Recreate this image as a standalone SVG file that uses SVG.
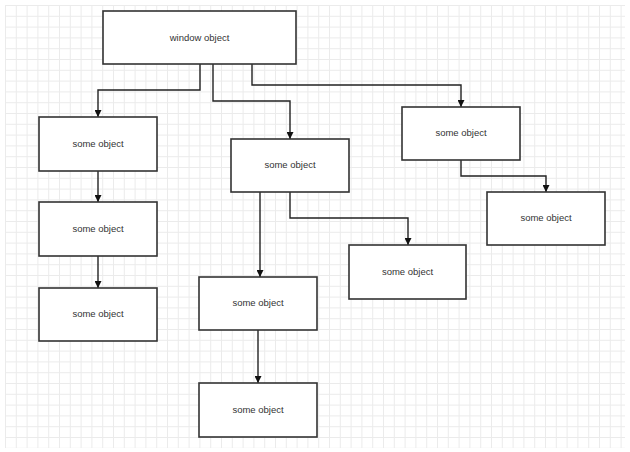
<svg xmlns="http://www.w3.org/2000/svg" width="630" height="452" viewBox="0 0 630 452">
<defs>
<pattern id="grid" x="5" y="5" width="10.8" height="10.8" patternUnits="userSpaceOnUse">
<path d="M0 0.5H10.8M0.5 0V10.8" fill="none" stroke="#ebebeb" stroke-width="1"/>
</pattern>
<marker id="arr" viewBox="0 0 10 10" refX="10" refY="5" markerWidth="8" markerHeight="7" markerUnits="userSpaceOnUse" orient="auto">
<path d="M0 0L10 5L0 10z" fill="#111"/>
</marker>
<style>
.box{fill:#fff;stroke:#333;stroke-width:1.6}
.lbl{font-family:"Liberation Sans",Arial,sans-serif;font-size:9.5px;fill:#333;text-anchor:middle;dominant-baseline:central}
.con{fill:none;stroke:#222;stroke-width:1.4;marker-end:url(#arr)}
</style>
</defs>
<rect width="630" height="452" fill="#fff"/>
<rect x="5" y="5" width="620" height="443" fill="url(#grid)"/>
<g id="connectors">
<path class="con" d="M200 64V90H98V117"/>
<path class="con" d="M98 171V202"/>
<path class="con" d="M98 256V288"/>
<path class="con" d="M213 64V101H290V139"/>
<path class="con" d="M252 64V85H461V107"/>
<path class="con" d="M461 160V176H546V192"/>
<path class="con" d="M290 192V218H408V245"/>
<path class="con" d="M260 192V277"/>
<path class="con" d="M258 330V383"/>
</g>
<g id="window"><rect class="box" x="103" y="11" width="193" height="53"/><text class="lbl" x="199.5" y="37">window object</text></g>
<g id="left1"><rect class="box" x="39" y="117" width="118" height="54"/><text class="lbl" x="98" y="143">some object</text></g>
<g id="left2"><rect class="box" x="39" y="202" width="118" height="54"/><text class="lbl" x="98" y="228">some object</text></g>
<g id="left3"><rect class="box" x="39" y="288" width="118" height="53"/><text class="lbl" x="98" y="313">some object</text></g>
<g id="mid"><rect class="box" x="231" y="139" width="118" height="53"/><text class="lbl" x="290" y="164">some object</text></g>
<g id="right"><rect class="box" x="402" y="107" width="118" height="53"/><text class="lbl" x="461" y="132">some object</text></g>
<g id="farright"><rect class="box" x="487" y="192" width="118" height="53"/><text class="lbl" x="546" y="217">some object</text></g>
<g id="midright"><rect class="box" x="349" y="245" width="117" height="54"/><text class="lbl" x="407.5" y="271">some object</text></g>
<g id="mid2"><rect class="box" x="199" y="277" width="118" height="53"/><text class="lbl" x="258" y="302">some object</text></g>
<g id="mid3"><rect class="box" x="199" y="383" width="118" height="54"/><text class="lbl" x="258" y="409">some object</text></g>
</svg>
